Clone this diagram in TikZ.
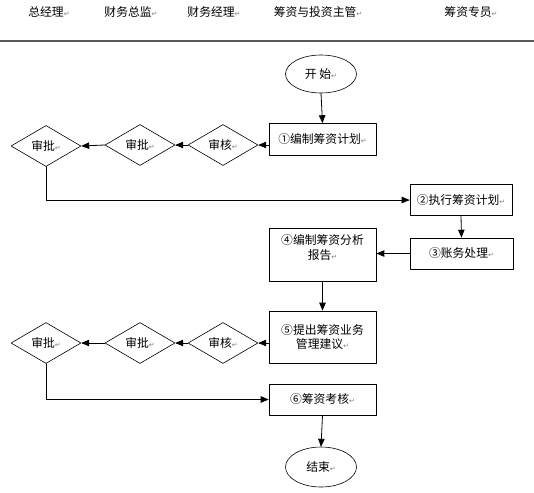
\documentclass[tikz,border=0pt]{standalone}
\usepackage{fontspec}
\newfontfamily\cjk{Noto Sans CJK SC}
\newfontfamily\symfont{DejaVu Sans}
\usetikzlibrary{arrows,shapes.geometric}
\newcommand{\enter}{{\symfont\color{gray}\fontsize{7}{8}\selectfont ↵}}

\begin{document}
\begin{tikzpicture}[line cap=round,line join=round,>=triangle 45,x=1pt,y=-1pt,
  every node/.style={font=\cjk\fontsize{11.8}{14.5}\selectfont},
  box/.style={draw,line width=0.8pt,minimum width=107pt,minimum height=32pt,inner sep=2pt,align=center},
  check/.style={draw,diamond,line width=0.6pt,minimum width=70pt,minimum height=41pt,inner sep=0pt},
  term/.style={draw,ellipse,line width=0.6pt,minimum width=71pt,minimum height=38pt,inner sep=0pt}]
\useasboundingbox (0,0) rectangle (534,492);
% header
\node (h1) at (49,12) {总经理\enter};
\node (h2) at (131,12) {财务总监\enter};
\node (h3) at (214,12) {财务经理\enter};
\node (h4) at (318,12) {筹资与投资主管\enter};
\node (h5) at (471,12) {筹资专员\enter};
\draw [line width=1.2pt,gray!70!black] (0,41) -- (534,41);
% first round
\node[term] (start) at (321,74) {开\ 始\enter};
\node[box] (s1) at (322.5,139.5) {①编制筹资计划\enter};
\node[check] (c1) at (223,145) {审核\enter};
\node[check] (c2) at (140,145) {审批\enter};
\node[check] (c3) at (46,146) {审批\enter};
\node[box,minimum width=102pt,minimum height=31pt] (s2) at (461,200) {②执行筹资计划\enter};
\node[box,minimum width=103pt,minimum height=31pt] (s3) at (461.5,253.5) {③账务处理\enter};
\node[box,minimum height=53pt] (s4) at (322.5,254.5) {④编制筹资分析\\报告\enter\\ \mbox{}};
\draw [->,line width=0.8pt] (start.south) -- (s1.north);
\draw [->,line width=0.8pt] (c1.east -| s1.west) -- (c1.east);
\draw [->,line width=0.8pt] (c1.west) -- (c2.east);
\draw [->,line width=0.8pt] (c2.west) -- (c3.east);
\draw [->,line width=0.8pt] (c3.south) |- (s2.west);
\draw [->,line width=0.8pt] (s2.south) -- (s3.north);
\draw [->,line width=0.8pt] (s3.west) -- (s3.west -| s4.east);
% second round
\node[box,minimum height=52pt] (s5) at (322.5,337) {⑤提出筹资业务\\管理建议\enter};
\node[check] (c4) at (223,343) {审核\enter};
\node[check] (c5) at (140,343) {审批\enter};
\node[check] (c6) at (46,343) {审批\enter};
\node[box,minimum height=31pt] (s6) at (322.5,399.5) {⑥筹资考核\enter};
\node[term,minimum height=40pt] (stop) at (321,467) {结束\enter};
\draw [->,line width=0.8pt] (s4.south) -- (s5.north);
\draw [->,line width=0.8pt] (c4.east -| s5.west) -- (c4.east);
\draw [->,line width=0.8pt] (c4.west) -- (c5.east);
\draw [->,line width=0.8pt] (c5.west) -- (c6.east);
\draw [->,line width=0.8pt] (c6.south) |- (s6.west);
\draw [->,line width=0.8pt] (s6.south) -- (stop.north);
\end{tikzpicture}
\end{document}
